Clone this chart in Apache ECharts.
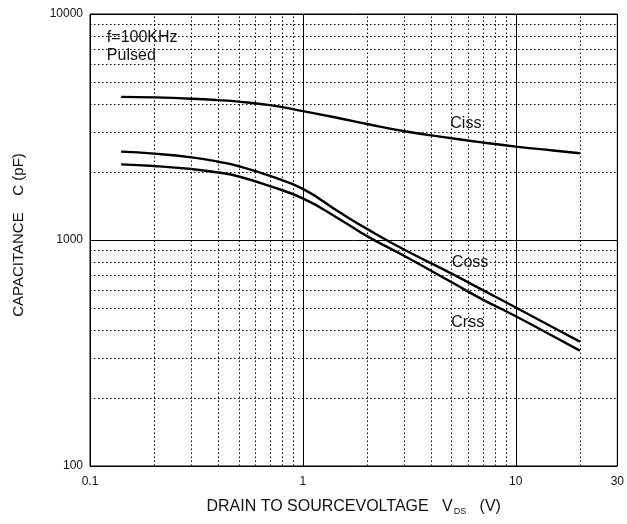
<!DOCTYPE html>
<html>
<head>
<meta charset="utf-8">
<script src="https://cdn.jsdelivr.net/npm/echarts@6/dist/echarts.min.js"></script>
<style>
  html, body { margin: 0; padding: 0; background: #fff; }
  #chart { width: 627px; height: 524px; }
</style>
</head>
<body>
<div id="chart"></div>
<script>
// drain-source voltage (V)
const vds = [0.14, 0.2, 0.3, 0.4, 0.5, 0.7, 1, 1.5, 2, 3, 5, 7, 10, 15, 20]
// capacitances (pF)
const ciss = [4300, 4275, 4220, 4160, 4095, 3950, 3720, 3450, 3260, 3030, 2820, 2700, 2590, 2490, 2420]
const coss = [2460, 2410, 2320, 2220, 2120, 1920, 1683, 1320, 1120, 905, 710, 600, 503, 410, 355]
const crss = [2160, 2125, 2060, 1990, 1910, 1730, 1527, 1230, 1040, 850, 650, 545, 460, 375, 324]

// dotted minor grid values
const minorX = [0.2, 0.3, 0.4, 0.5, 0.6, 0.7, 0.8, 0.9, 2, 3, 4, 5, 6, 7, 8, 9, 20]
const minorY = [200, 300, 400, 500, 600, 700, 800, 900, 2000, 3000, 4000, 5000, 6000, 7000, 8000, 9000]

// curve labels: [name, V, C]
const curveLabels = [['Ciss', 5.83, 3260], ['Coss', 6.1, 791], ['Crss', 5.95, 433]]
const notes = [['f=100KHz', 0.12, 7830], ['Pulsed', 0.12, 6520]]

const pairs = (ys) => vds.map((v, i) => [v, ys[i]])
const textColor = '#111'
const font = 'Liberation Sans, Arial'

function curve(name, ys) {
  return {
    name: name,
    type: 'line',
    data: pairs(ys),
    smooth: 0.5,
    showSymbol: false,
    lineStyle: { color: '#000', width: 2.4 },
    z: 5
  }
}

const chart = echarts.init(document.getElementById('chart'))
chart.setOption({
  animation: false,
  grid: {
    left: 90, right: 7, top: 14, bottom: 58,
    show: true, borderColor: '#000', borderWidth: 1
  },
  xAxis: {
    type: 'log',
    logBase: 10,
    min: 0.1,
    max: 30,
    name: 'DRAIN TO SOURCEVOLTAGE   V{sub|DS}   (V)',
    nameLocation: 'middle',
    nameGap: 32,
    nameTextStyle: {
      color: textColor, fontSize: 16, fontFamily: font,
      rich: { sub: { fontSize: 9, fontFamily: font, verticalAlign: 'bottom', padding: [9, 0, 0, 1], color: textColor } }
    },
    axisLine: { show: false },
    axisTick: { show: false },
    axisLabel: {
      color: textColor, fontSize: 12, margin: 10, fontFamily: font,
      formatter: (v) => String(Math.round(v * 10) / 10)
    },
    splitLine: { show: true, lineStyle: { color: '#000', width: 1 } }
  },
  yAxis: {
    type: 'log',
    logBase: 10,
    min: 100,
    max: 10000,
    name: 'CAPACITANCE    C (pF)',
    nameLocation: 'middle',
    nameGap: 64,
    nameTextStyle: { color: textColor, fontSize: 15, fontFamily: font, padding: [0, 0, 0, 10] },
    axisLine: { show: false },
    axisTick: { show: false },
    axisLabel: {
      color: textColor, fontSize: 12, margin: 7, fontFamily: font,
      formatter: (v) => String(Math.round(v))
    },
    splitLine: { show: true, lineStyle: { color: '#000', width: 1 } }
  },
  series: [
    {
      name: 'grid',
      type: 'line',
      data: [[0.1, 100]],
      showSymbol: false,
      silent: true,
      lineStyle: { opacity: 0 },
      markLine: {
        silent: true,
        symbol: ['none', 'none'],
        label: { show: false },
        lineStyle: { color: '#000', width: 1, type: [1.5, 2.5] },
        data: minorX.map(v => ({ xAxis: v })).concat(minorY.map(v => ({ yAxis: v })))
      },
      markPoint: {
        symbol: 'circle',
        symbolSize: 0,
        label: {
          show: true, color: textColor, fontSize: 16, align: 'left',
          fontFamily: font, formatter: (p) => p.name
        },
        data: notes.map(n => ({ name: n[0], coord: [n[1], n[2]] }))
          .concat(curveLabels.map(n => ({ name: n[0], coord: [n[1], n[2]], label: { align: 'center' } })))
      },
      z: 1
    },
    curve('Ciss', ciss),
    curve('Coss', coss),
    curve('Crss', crss)
  ]
})
</script>
</body>
</html>
